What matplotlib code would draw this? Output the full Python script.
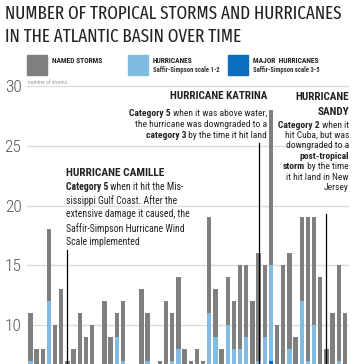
import matplotlib
matplotlib.use("Agg")
import matplotlib.pyplot as plt
from matplotlib.patches import Rectangle

plt.rcParams["font.family"] = ["Roboto Condensed", "DejaVu Sans"]

# data: Atlantic season counts, 1966-2017 (bottom of chart is cropped)
years = list(range(1966, 2018))
named_storms = [11, 8, 8, 18, 10, 13, 7, 8, 11, 9,
                10, 6, 12, 9, 11, 12, 6, 4, 13, 11,
                6, 7, 12, 11, 14, 8, 7, 8, 7, 19,
                13, 8, 14, 12, 15, 15, 12, 16, 15, 28,
                10, 15, 16, 9, 19, 19, 19, 14, 8, 11,
                15, 11]
hurricanes = [7, 6, 5, 12, 5, 6, 3, 4, 4, 6,
              6, 5, 5, 5, 9, 7, 2, 3, 5, 7,
              4, 3, 5, 7, 8, 4, 4, 4, 3, 11,
              9, 3, 10, 8, 8, 9, 4, 7, 9, 15,
              5, 6, 8, 3, 12, 7, 10, 2, 6, 4,
              7, 6]
major_hurricanes = [3, 1, 0, 5, 2, 1, 0, 1, 2, 3,
                    2, 1, 2, 2, 2, 3, 1, 1, 1, 3,
                    0, 1, 3, 2, 1, 2, 1, 1, 0, 5,
                    6, 1, 3, 5, 3, 4, 2, 3, 6, 7,
                    2, 2, 5, 2, 5, 4, 2, 0, 2, 2,
                    4, 3]
y_ticks = [10, 15, 20, 25, 30]

GRAY = "#7f7f7f"
LIGHT = "#82bbe2"
DARK = "#0b6dbd"
INK = "#222222"
TITLE_FONT = ["Fira Sans Extra Condensed", "Roboto Condensed", "DejaVu Sans"]

W, H = 356, 364
fig = plt.figure(figsize=(W / 100, H / 100), dpi=100)
renderer = fig.canvas.get_renderer()

def fx(px):
    return px / W

def fy(py):
    return 1 - py / H

ax = fig.add_axes([fx(27), 0, fx(349) - fx(27), 1 - 80 / H])
idx = list(range(len(years)))
ax.bar(idx, named_storms, width=0.7, color=GRAY, zorder=2)
ax.bar(idx, hurricanes, width=0.7, color=LIGHT, zorder=3)
ax.bar(idx, major_hurricanes, width=0.7, color=DARK, zorder=4)
ax.set_xlim(-0.55, len(years) - 0.35)
ax.set_ylim(6.74, 30.5)
for v in y_ticks:
    ax.axhline(v, color="#dcdcdc", lw=1, zorder=1)
ax.set_yticks(y_ticks)
ax.set_yticklabels([str(v) for v in y_ticks], fontsize=12.5, color="#555555",
                   weight="light")
ax.tick_params(axis="y", length=0, pad=4)
ax.set_xticks([])
for s in ax.spines.values():
    s.set_visible(False)

# title, sized so that line one spans about 337 px
t1 = fig.text(fx(5), fy(14), "NUMBER OF TROPICAL STORMS AND HURRICANES",
              fontsize=14, color=INK, va="center", ha="left", family=TITLE_FONT)
w1 = t1.get_window_extent(renderer).width
title_size = 14 * 337 / w1
t1.set_fontsize(title_size)
fig.text(fx(5), fy(37), "IN THE ATLANTIC BASIN OVER TIME",
         fontsize=title_size, color=INK, va="center", ha="left",
         family=TITLE_FONT)

# legend
legend_items = [(27, GRAY, "NAMED STORMS", ""),
                (128, LIGHT, "HURRICANES", "Saffir-Simpson scale 1-2"),
                (228, DARK, "MAJOR  HURRICANES", "Saffir-Simpson scale 3-5")]
for x0, c, lab, sub in legend_items:
    fig.add_artist(Rectangle((fx(x0), fy(75)), fx(20), 20 / H,
                             transform=fig.transFigure, color=c))
    fig.text(fx(x0 + 25), fy(61), lab, fontsize=5.4, weight="bold",
             color=INK, va="center")
    if sub:
        fig.text(fx(x0 + 25), fy(70), sub, fontsize=4.8, weight="bold",
                 color="#333333", va="center")
fig.text(fx(28), fy(82), "number of storms", fontsize=4, color="#999999",
         va="center")

def dx(px):
    return (px - 30.4) / 6.17

def dy(py):
    return 30.5 - (py - 80) / 11.95

def line_left(x, y, parts, size=6.8):
    prev = None
    for txt, bold in parts:
        w = "bold" if bold else "normal"
        if prev is None:
            prev = ax.text(dx(x), dy(y), txt, fontsize=size, weight=w,
                           ha="left", va="center", color=INK, zorder=6)
        else:
            prev = ax.annotate(txt, xy=(1, 0.5), xycoords=prev, fontsize=size,
                               weight=w, ha="left", va="center",
                               color=INK, zorder=6)

def line_right(x, y, parts, size=6.8):
    prev = None
    for txt, bold in reversed(parts):
        w = "bold" if bold else "normal"
        if prev is None:
            prev = ax.text(dx(x), dy(y), txt, fontsize=size, weight=w,
                           ha="right", va="center", color=INK, zorder=6)
        else:
            prev = ax.annotate(txt, xy=(0, 0.5), xycoords=prev, fontsize=size,
                               weight=w, ha="right", va="center",
                               color=INK, zorder=6)

# Camille
line_left(66, 173, [("HURRICANE CAMILLE", True)], size=8.2)
camille = [[("Category 5", True), (" when it hit the Mis-", False)],
           [("sissippi Gulf Coast. After the", False)],
           [("extensive damage it caused, the", False)],
           [("Saffir-Simpson Hurricane Wind", False)],
           [("Scale implemented", False)]]
for i, parts in enumerate(camille):
    line_left(66, 187 + i * 13.7, parts, size=7.0)
ax.plot([6, 6], [dy(250), 0], color="black", lw=0.9, zorder=5)

# Katrina
line_right(267, 96, [("HURRICANE KATRINA", True)], size=8)
katrina = [[("Category 5", True), (" when it was above water,", False)],
           [("the hurricane was downgraded to a", False)],
           [("category 3", True), (" by the time it hit land", False)]]
for i, parts in enumerate(katrina):
    line_right(267, 113 + i * 11, parts)
ax.plot([37, 37], [dy(143), 0], color="black", lw=0.9, zorder=5)

# Sandy
line_right(349, 97, [("HURRICANE", True)], size=8)
line_right(349, 112, [("SANDY", True)], size=8)
sandy = [[("Category 2", True), (" when it", False)],
         [("hit Cuba, but was", False)],
         [("downgraded to a", False)],
         [("post-tropical", True)],
         [("storm", True), (" by the time", False)],
         [("it hit land in New", False)],
         [("Jersey", False)]]
for i, parts in enumerate(sandy):
    line_right(349, 125 + i * 10.4, parts)
ax.plot([48, 48], [dy(214), 0], color="black", lw=0.9, zorder=5)

fig.savefig("out.png", dpi=100)
